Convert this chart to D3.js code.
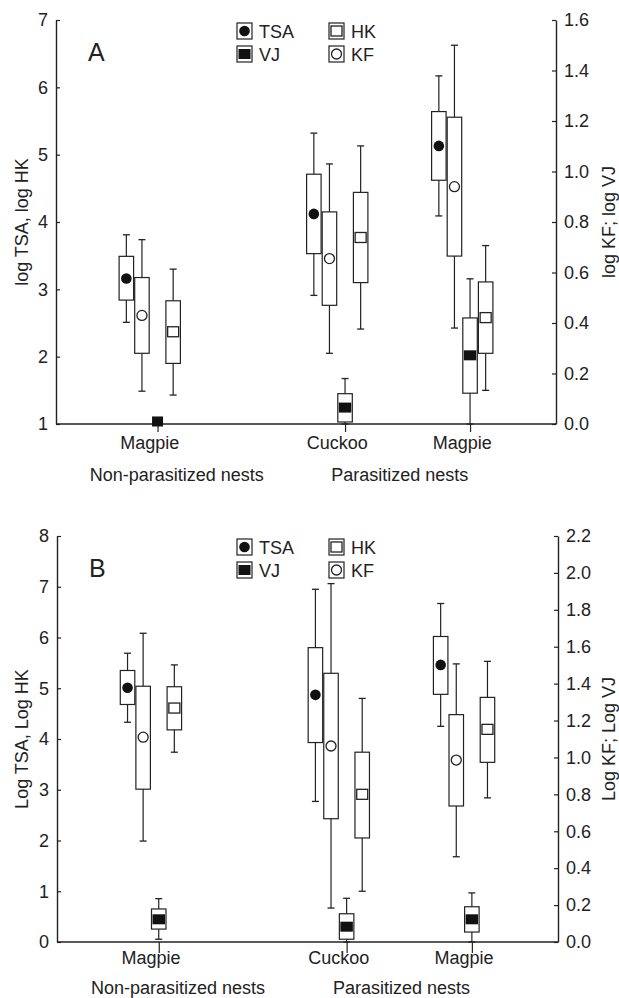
<!DOCTYPE html>
<html>
<head>
<meta charset="utf-8">
<script src="https://cdn.jsdelivr.net/npm/d3@7"></script>
<style>
body { margin: 0; background: #fff; }
text { font-family: "Liberation Sans", Arial, sans-serif; fill: #222; }
</style>
</head>
<body>
<svg id="chart" width="619" height="998"></svg>
<script>
// categories on the x axis (positions leave a gap between the two nest types)
var groups = ["Magpie", "Cuckoo", "Magpie"];
var groupPos = [0, 1.5, 2.5];
var nestLabels = ["Non-parasitized nests", "Parasitized nests"];
var series = ["TSA", "KF", "VJ", "HK"];   // order of the boxes inside a group
var rightSeries = { KF: true, VJ: true };  // drawn against the right axis

// each entry: [lower whisker, q1, median, q3, upper whisker]
var aTSA = [[2.51, 2.84, 3.16, 3.49, 3.81], [2.91, 3.53, 4.12, 4.71, 5.32], [4.09, 4.62, 5.13, 5.64, 6.17]];
var aKF  = [[0.13, 0.28, 0.43, 0.58, 0.73], [0.28, 0.47, 0.655, 0.84, 1.03], [0.38, 0.665, 0.94, 1.215, 1.50]];
var aVJ  = [[0.01, 0.01, 0.01, 0.01, 0.01], [0.0, 0.008, 0.065, 0.12, 0.18], [0.0, 0.122, 0.272, 0.42, 0.575]];
var aHK  = [[1.43, 1.90, 2.37, 2.83, 3.30], [2.41, 3.10, 3.77, 4.44, 5.13], [1.50, 2.05, 2.58, 3.11, 3.65]];

var bTSA = [[4.33, 4.68, 5.01, 5.35, 5.69], [2.77, 3.93, 4.87, 5.80, 6.95], [4.25, 4.88, 5.46, 6.02, 6.67]];
var bKF  = [[0.547, 0.828, 1.11, 1.386, 1.673], [0.184, 0.668, 1.062, 1.456, 1.942], [0.462, 0.737, 0.986, 1.232, 1.507]];
var bVJ  = [[0.015, 0.07, 0.123, 0.179, 0.235], [0.0, 0.015, 0.083, 0.153, 0.237], [0.0, 0.054, 0.123, 0.191, 0.266]];
var bHK  = [[3.74, 4.18, 4.61, 5.03, 5.46], [1.00, 2.05, 2.91, 3.74, 4.80], [2.84, 3.54, 4.19, 4.82, 5.53]];

var aLeftTicks = [1, 2, 3, 4, 5, 6, 7];
var aRightTicks = [0, 0.2, 0.4, 0.6, 0.8, 1.0, 1.2, 1.4, 1.6];
var bLeftTicks = [0, 1, 2, 3, 4, 5, 6, 7, 8];
var bRightTicks = [0, 0.2, 0.4, 0.6, 0.8, 1.0, 1.2, 1.4, 1.6, 1.8, 2.0, 2.2];

var panels = [
  { letter: "A", data: { TSA: aTSA, KF: aKF, VJ: aVJ, HK: aHK },
    x0: 56, x1: 556, yTop: 20, yBot: 424,
    left: [1, 7], right: [0, 1.6], leftTicks: aLeftTicks, rightTicks: aRightTicks, rightFmt: ".1f",
    leftTitle: "log TSA, log HK", rightTitle: "log KF; log VJ",
    catTick: 8, catY: 449, nestY: 481, legendY: 23 },
  { letter: "B", data: { TSA: bTSA, KF: bKF, VJ: bVJ, HK: bHK },
    x0: 57, x1: 558, yTop: 536, yBot: 942,
    left: [0, 8], right: [0, 2.2], leftTicks: bLeftTicks, rightTicks: bRightTicks, rightFmt: ".1f",
    leftTitle: "Log TSA, Log HK", rightTitle: "Log KF; Log VJ",
    catTick: 11, catY: 964, nestY: 994, legendY: 539 }
];

var svg = d3.select("#chart");
var ink = "#222";
var boxW = 14.5, capW = 7, step = 15.6;

function drawMarker(g, name, cx, cy, w) {
  if (name === "TSA") {
    g.append("circle").attr("cx", cx).attr("cy", cy).attr("r", 5.3).attr("fill", "#111");
  } else if (name === "KF") {
    g.append("circle").attr("cx", cx).attr("cy", cy).attr("r", 5)
      .attr("fill", "#fff").attr("stroke", ink).attr("stroke-width", 1.3);
  } else if (name === "HK") {
    g.append("rect").attr("x", cx - 5.5).attr("y", cy - 5).attr("width", 11).attr("height", 10)
      .attr("fill", "#fff").attr("stroke", ink).attr("stroke-width", 1.3);
  } else {
    g.append("rect").attr("x", cx - w / 2).attr("y", cy - 5).attr("width", w).attr("height", 10)
      .attr("fill", "#111");
  }
}

panels.forEach(function(p) {
  var g = svg.append("g");
  var x = d3.scaleLinear().domain([-0.75, 3.25]).range([p.x0, p.x1]);
  var yL = d3.scaleLinear().domain(p.left).range([p.yBot, p.yTop]);
  var yR = d3.scaleLinear().domain(p.right).range([p.yBot, p.yTop]);

  // axes
  var axL = g.append("g").attr("transform", "translate(" + p.x0 + ",0)")
    .call(d3.axisLeft(yL).tickValues(p.leftTicks).tickSizeInner(-4).tickSizeOuter(0).tickPadding(8).tickFormat(d3.format("d")));
  var axR = g.append("g").attr("transform", "translate(" + p.x1 + ",0)")
    .call(d3.axisRight(yR).tickValues(p.rightTicks).tickSizeInner(-4).tickSizeOuter(0).tickPadding(8).tickFormat(d3.format(p.rightFmt)));
  var axB = g.append("g").attr("transform", "translate(0," + p.yBot + ")")
    .call(d3.axisBottom(x).tickValues(groupPos.map(function(d) { return d + 0.5 * step / 125; }))
      .tickSize(p.catTick).tickSizeOuter(0).tickFormat(""));
  [axL, axR, axB].forEach(function(a) {
    a.select(".domain").attr("stroke", ink).attr("stroke-width", 1.4);
    a.selectAll(".tick line").attr("stroke", ink).attr("stroke-width", 1.2);
    a.selectAll(".tick text").style("font-size", "18px").attr("fill", ink)
      .style("font-family", "Liberation Sans, Arial, sans-serif");
  });
  axB.select(".domain").attr("d", "M" + p.x0 + ",0H" + p.x1);

  // category labels
  g.selectAll(".cat").data(groups).enter().append("text")
    .attr("x", function(d, i) { return x(groupPos[i]); })
    .attr("y", p.catY).attr("text-anchor", "middle").style("font-size", "18px")
    .text(function(d) { return d; });
  g.selectAll(".nest").data(nestLabels).enter().append("text")
    .attr("x", function(d, i) { return i === 0 ? x(groupPos[0]) + 27 : (x(groupPos[1]) + x(groupPos[2])) / 2 + 0; })
    .attr("y", p.nestY).attr("text-anchor", "middle").style("font-size", "18px")
    .text(function(d) { return d; });

  // axis titles
  var midY = (p.yTop + p.yBot) / 2;
  g.append("text").attr("transform", "translate(28," + midY + ") rotate(-90)")
    .attr("text-anchor", "middle").style("font-size", "18px").text(p.leftTitle);
  g.append("text").attr("transform", "translate(615," + midY + ") rotate(-90)")
    .attr("text-anchor", "middle").style("font-size", "18px").text(p.rightTitle);

  // panel letter
  g.append("text").attr("x", p.x0 + 32).attr("y", p.yTop + 41).style("font-size", "25px").text(p.letter);

  // boxes
  series.forEach(function(name, si) {
    var y = rightSeries[name] ? yR : yL;
    p.data[name].forEach(function(v, gi) {
      var cx = x(groupPos[gi]) + (si - 1.5) * step;
      var bg = g.append("g");
      bg.append("line").attr("x1", cx).attr("x2", cx).attr("y1", y(v[0])).attr("y2", y(v[4]))
        .attr("stroke", ink).attr("stroke-width", 1.2);
      [v[0], v[4]].forEach(function(w) {
        bg.append("line").attr("x1", cx - capW / 2).attr("x2", cx + capW / 2)
          .attr("y1", y(w)).attr("y2", y(w)).attr("stroke", ink).attr("stroke-width", 1.3);
      });
      if (v[3] > v[1]) {
        bg.append("rect").attr("x", cx - boxW / 2).attr("y", y(v[3]))
          .attr("width", boxW).attr("height", y(v[1]) - y(v[3]))
          .attr("fill", "#fff").attr("stroke", ink).attr("stroke-width", 1.2);
      }
      drawMarker(bg, name, cx, y(v[2]), name === "VJ" && v[3] === v[1] ? 11 : boxW - 2);
    });
  });

  // legend
  var legend = [["TSA", 237, 0], ["VJ", 237, 23], ["HK", 329, 0], ["KF", 329, 23]];
  legend.forEach(function(l) {
    var lg = g.append("g").attr("transform", "translate(" + l[1] + "," + (p.legendY + l[2]) + ")");
    lg.append("rect").attr("x", 0).attr("y", 0).attr("width", 15).attr("height", 16)
      .attr("fill", "#fff").attr("stroke", ink).attr("stroke-width", 1.2);
    drawMarker(lg, l[0], 7.5, 8, 12);
    lg.append("text").attr("x", 22).attr("y", 14.5).style("font-size", "18px").text(l[0]);
  });
});
</script>
</body>
</html>
